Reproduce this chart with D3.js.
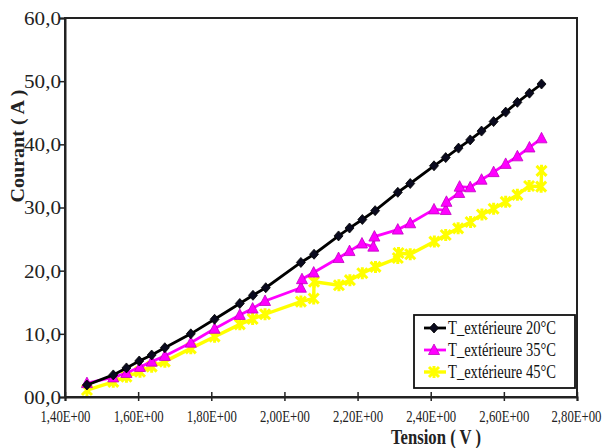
<!DOCTYPE html>
<html><head><meta charset="utf-8">
<script src="https://cdn.jsdelivr.net/npm/d3@7"></script>
<style>body{margin:0;background:#fff}svg{display:block}</style>
</head><body>
<svg id="c" width="603" height="448"></svg>
<script>
const xTicks = [1.4,1.6,1.8,2.0,2.2,2.4,2.6,2.8];
const xTickLabels = ["1,40E+00","1,60E+00","1,80E+00","2,00E+00","2,20E+00","2,40E+00","2,60E+00","2,80E+00"];
const yTicks = [0,10,20,30,40,50,60];
const yTickLabels = ["00,0","10,0","20,0","30,0","40,0","50,0","60,0"];
const seriesNames = ["T_extérieure 20°C","T_extérieure 35°C","T_extérieure 45°C"];

const v20 = [1.46,1.532,1.568,1.603,1.637,1.673,1.744,1.809,1.878,1.914,1.949,2.045,2.081,2.148,2.178,2.213,2.248,2.310,2.344,2.409,2.441,2.476,2.508,2.539,2.572,2.605,2.637,2.670,2.703];
const i20 = [1.9,3.5,4.6,5.7,6.65,7.8,10.0,12.3,14.8,16.1,17.3,21.3,22.6,25.5,26.75,28.1,29.5,32.4,33.8,36.6,37.9,39.4,40.7,42.1,43.6,45.1,46.65,48.1,49.55];

const v35 = [1.46,1.532,1.568,1.605,1.637,1.673,1.744,1.809,1.878,1.913,1.947,2.045,2.048,2.080,2.148,2.178,2.212,2.243,2.246,2.310,2.344,2.409,2.441,2.443,2.478,2.479,2.508,2.539,2.572,2.605,2.637,2.670,2.703];
const i35 = [2.2,3.1,3.8,4.75,5.6,6.5,8.6,10.8,13.0,14.0,15.2,17.3,18.65,19.7,22.0,23.1,24.3,23.8,25.4,26.5,27.5,29.7,29.6,30.9,32.3,33.3,33.2,34.4,35.6,36.9,38.1,39.5,40.95];

const v45 = [1.46,1.532,1.568,1.605,1.637,1.673,1.744,1.809,1.878,1.913,1.947,2.045,2.080,2.081,2.149,2.179,2.213,2.249,2.310,2.312,2.344,2.410,2.441,2.475,2.509,2.540,2.572,2.605,2.637,2.669,2.702,2.703];
const i45 = [1.1,2.4,3.2,4.0,4.8,5.6,7.7,9.55,11.5,12.35,13.1,15.1,15.6,18.25,17.7,18.5,19.6,20.6,22.0,22.8,22.6,24.6,25.65,26.7,27.7,28.9,29.8,30.9,32.0,33.4,33.3,35.8];

const colors = ["#000000","#ff00ff","#ffff00"];
const markerType = ["diamond","triangle","star"];

const svg = d3.select("#c");
const L = 65, R = 577, T = 18, B = 397;
const x = d3.scaleLinear().domain([1.4,2.8]).range([L,R]);
const y = d3.scaleLinear().domain([0,60]).range([B,T]);
const serif = "'Liberation Serif','Times New Roman',serif";

// frame
svg.append("rect").attr("x",L).attr("y",T).attr("width",R-L).attr("height",B-T)
  .attr("fill","none").attr("stroke","#222").attr("stroke-width",2);

// y axis
const yAxis = svg.append("g").attr("transform",`translate(${L},0)`)
  .call(d3.axisLeft(y).tickValues(yTicks).tickSize(5).tickFormat((d,i)=>yTickLabels[i]));
yAxis.select(".domain").attr("stroke","#222").attr("stroke-width",2);
yAxis.selectAll(".tick line").attr("stroke","#222").attr("stroke-width",1.5);
yAxis.selectAll(".tick text").attr("font-family",serif).attr("font-size",19).attr("fill","#222")
  .attr("x",-4).attr("dy","0.34em").attr("textLength",37).attr("lengthAdjust","spacingAndGlyphs");

// x axis
const xAxis = svg.append("g").attr("transform",`translate(0,${B})`)
  .call(d3.axisBottom(x).tickValues(xTicks).tickSize(4).tickFormat((d,i)=>xTickLabels[i]));
xAxis.select(".domain").attr("stroke","#222").attr("stroke-width",2);
xAxis.selectAll(".tick line").attr("stroke","#222").attr("stroke-width",1.5).attr("y1",-5).attr("y2",4);
xAxis.selectAll(".tick text").attr("font-family",serif).attr("font-size",17).attr("fill","#222")
  .attr("y",13).attr("dy","0.71em").attr("textLength",50).attr("lengthAdjust","spacingAndGlyphs");
xAxis.selectAll(".tick text").filter((d,i)=>i===xTicks.length-1)
  .attr("text-anchor","end").attr("x",24);

// axis titles
svg.append("text").attr("x",436).attr("y",444).attr("text-anchor","middle")
  .attr("font-family",serif).attr("font-weight","bold").attr("font-size",20).attr("fill","#222")
  .attr("textLength",90).attr("lengthAdjust","spacingAndGlyphs").text("Tension ( V )");
svg.append("text").attr("transform","translate(24,146) rotate(-90)").attr("text-anchor","middle")
  .attr("font-family",serif).attr("font-weight","bold").attr("font-size",19).attr("fill","#222")
  .attr("textLength",113).attr("lengthAdjust","spacingAndGlyphs").text("Courant ( A )");

function marker(g, type, color, cx, cy){
  if(type==="diamond"){
    g.append("path").attr("d",`M${cx},${cy-5}L${cx+4.5},${cy}L${cx},${cy+5}L${cx-4.5},${cy}Z`)
      .attr("fill","#0a0a1e").attr("stroke","#000").attr("stroke-width",0.8);
  } else if(type==="triangle"){
    g.append("path").attr("d",`M${cx},${cy-6}L${cx+5.5},${cy+4.5}L${cx-5.5},${cy+4.5}Z`)
      .attr("fill",color).attr("stroke","#c000c0").attr("stroke-width",0.8);
  } else {
    g.append("path").attr("d",`M${cx-5},${cy-5}L${cx+5},${cy+5}M${cx+5},${cy-5}L${cx-5},${cy+5}M${cx},${cy-6}L${cx},${cy+6}`)
      .attr("fill","none").attr("stroke",color).attr("stroke-width",3);
  }
}

const series = [[v20,i20],[v35,i35],[v45,i45]];
const line = d3.line().x(d=>x(d[0])).y(d=>y(d[1]));
[2,1,0].forEach(k=>{
  const pts = series[k][0].map((v,j)=>[v,series[k][1][j]]);
  const g = svg.append("g");
  g.append("path").datum(pts).attr("d",line).attr("fill","none")
    .attr("stroke",colors[k]).attr("stroke-width",k===2?3.4:2.8);
  pts.forEach(p=>marker(g,markerType[k],colors[k],x(p[0]),y(p[1])));
});

// legend
const lg = svg.append("g");
lg.append("rect").attr("x",414).attr("y",315).attr("width",161).attr("height",73)
  .attr("fill","#fff").attr("stroke","#111").attr("stroke-width",1.8);
seriesNames.forEach((nm,k)=>{
  const ly = 328 + k*22;
  lg.append("line").attr("x1",424).attr("x2",446).attr("y1",ly).attr("y2",ly)
    .attr("stroke",colors[k]).attr("stroke-width",k===2?3.4:2.8);
  marker(lg, markerType[k], colors[k], 434, ly);
  lg.append("text").attr("x",448).attr("y",ly+6).attr("font-family",serif).attr("font-size",18)
    .attr("fill","#111").attr("textLength",108).attr("lengthAdjust","spacingAndGlyphs").text(nm);
});
</script>
</body></html>
